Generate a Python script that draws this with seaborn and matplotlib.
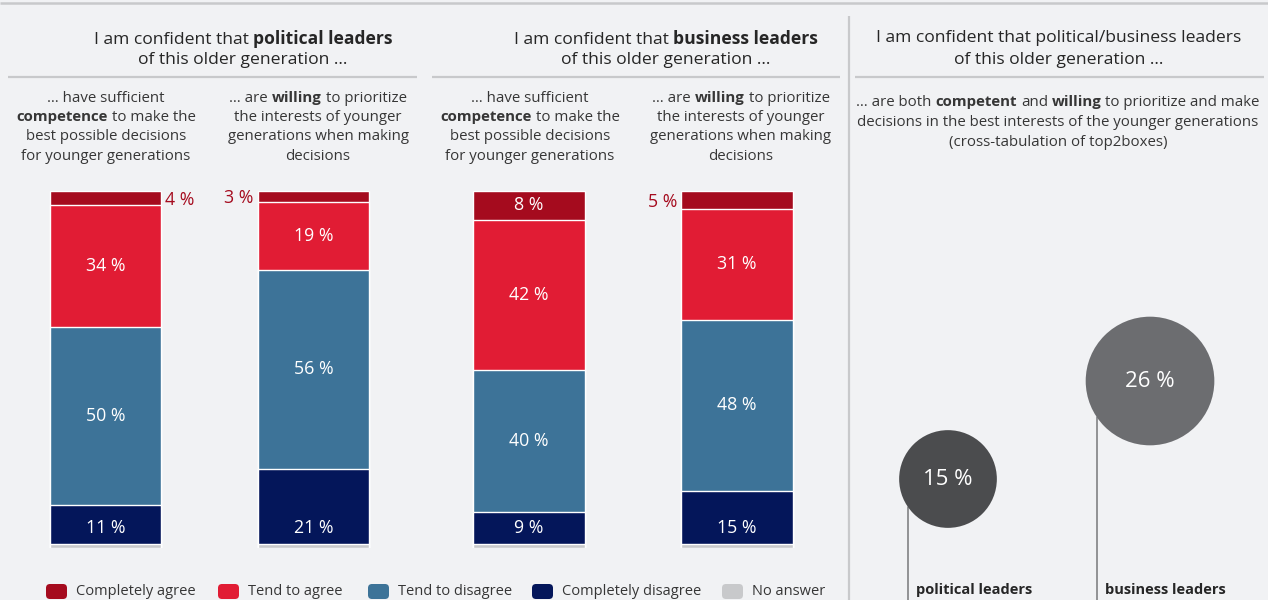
import numpy as np
import pandas as pd
import matplotlib
matplotlib.use("Agg")
import matplotlib.pyplot as plt
import seaborn as sns
from matplotlib.offsetbox import TextArea, HPacker, AnchoredOffsetbox
from matplotlib.patches import FancyBboxPatch

# ---------------------------------------------------------------- data
categories = ["Completely agree", "Tend to agree", "Tend to disagree",
              "Completely disagree", "No answer"]
items = ["competence", "willing"]

political_completely_agree = [4, 3]
political_tend_agree = [34, 19]
political_tend_disagree = [50, 56]
political_completely_disagree = [11, 21]
political_no_answer = [1, 1]

business_completely_agree = [8, 5]
business_tend_agree = [42, 31]
business_tend_disagree = [40, 48]
business_completely_disagree = [9, 15]
business_no_answer = [1, 1]

both_groups = ["political leaders", "business leaders"]
both_values = [15, 26]

# ---------------------------------------------------------------- style
W, H = 1268, 600
BG = "#f1f2f4"
RULE = "#c8c9cb"
HEAD = "#262626"
SUB = "#363636"
FONT = "Open Sans"
colors = {
    "Completely agree": "#a50b1e",
    "Tend to agree": "#e11c34",
    "Tend to disagree": "#3d7398",
    "Completely disagree": "#04165a",
    "No answer": "#c8c9cb",
}
bubble_colors = {"political leaders": "#4b4c4e", "business leaders": "#6c6d70"}

sns.set_theme(style="white", rc={"axes.facecolor": BG, "figure.facecolor": BG})
plt.rcParams["font.family"] = [FONT, "DejaVu Sans"]

fig = plt.figure(figsize=(W / 100, H / 100), dpi=100)
fig.patch.set_facecolor(BG)

# full-figure overlay in pixel units for rules, headings and legend
ov = fig.add_axes([0, 0, 1, 1], zorder=0)
ov.set_xlim(0, W)
ov.set_ylim(H, 0)
ov.axis("off")


def rich_line(parts, xc, yc, size, color, sep):
    """Centre a line built from (text, weight) pieces at pixel (xc, yc)."""
    kids = [TextArea(t, textprops=dict(size=size, weight=w, color=color,
                                       family=[FONT, "DejaVu Sans"]))
            for t, w in parts]
    box = HPacker(children=kids, align="baseline", pad=0, sep=sep)
    anch = AnchoredOffsetbox(loc="center", child=box, pad=0, borderpad=0,
                             frameon=False, bbox_to_anchor=(xc, yc),
                             bbox_transform=ov.transData)
    ov.add_artist(anch)


def block(lines, xc, y0, dy, size, color, sep, base="normal"):
    for k, ln in enumerate(lines):
        if isinstance(ln, str):
            ln = [(ln, base)]
        rich_line(ln, xc, y0 + k * dy, size, color, sep)


# rules
ov.plot([0, W], [3, 3], color=RULE, lw=1.8, solid_capstyle="butt")
ov.plot([848.5, 848.5], [16, H], color=RULE, lw=1.6, solid_capstyle="butt")
for x0, x1 in [(8, 417), (432, 840), (855, 1264)]:
    ov.plot([x0, x1], [77, 77], color=RULE, lw=1.6, solid_capstyle="butt")

# headings
HS, HSEP = 12.6, 3.3
block([[("I am confident that", "medium"), ("political leaders", "bold")],
       "of this older generation …"], 243, 38.5, 21, HS, HEAD, HSEP, "medium")
block([[("I am confident that", "medium"), ("business leaders", "bold")],
       "of this older generation …"], 666, 38.5, 21, HS, HEAD, HSEP, "medium")
block(["I am confident that political/business leaders",
       "of this older generation …"], 1059, 38.5, 21, HS, HEAD, HSEP, "medium")

SS, SSEP = 10.8, 2.8
competence_lines = ["… have sufficient",
                    [("competence", "bold"), ("to make the", "normal")],
                    "best possible decisions",
                    "for younger generations"]
willing_lines = [[("… are", "normal"), ("willing", "bold"), ("to prioritize", "normal")],
                 "the interests of younger",
                 "generations when making",
                 "decisions"]
block(competence_lines, 106, 98.5, 19.2, SS, SUB, SSEP)
block(willing_lines, 318, 98.5, 19.2, SS, SUB, SSEP)
block(competence_lines, 530, 98.5, 19.2, SS, SUB, SSEP)
block(willing_lines, 741, 98.5, 19.2, SS, SUB, SSEP)
block([[("… are both", "normal"), ("competent", "bold"), ("and", "normal"),
        ("willing", "bold"), ("to prioritize and make", "normal")],
       "decisions in the best interests of the younger generations",
       "(cross-tabulation of top2boxes)"], 1058, 102.5, 20, SS, SUB, SSEP)

# ---------------------------------------------------------------- stacked bars
panels = [
    (0.0, [political_completely_agree, political_tend_agree,
           political_tend_disagree, political_completely_disagree,
           political_no_answer]),
    (423.5, [business_completely_agree, business_tend_agree,
             business_tend_disagree, business_completely_disagree,
             business_no_answer]),
]
BAR_W = 0.535
LBL = 12.8
small_side = ["right", "left"]
stack_order = categories[::-1]  # bottom to top

for x0, series in panels:
    ax = fig.add_axes([x0 / W, 1 - 548 / H, 424 / W, (548 - 191) / H], zorder=2)
    ax.patch.set_alpha(0)
    df = pd.DataFrame({"item": items})
    for cat, vals in zip(categories, series):
        df[cat] = vals
    cum = df[stack_order].cumsum(axis=1)
    # tallest cumulative first so each shorter stack sits in front
    for cat in categories:
        sns.barplot(x=df["item"], y=cum[cat], order=items, color=colors[cat],
                    saturation=1, width=BAR_W, edgecolor="white",
                    linewidth=1.0, errorbar=None, ax=ax)
    ax.set_xlim(-0.507, 1.531)
    ax.set_ylim(0, 100)
    ax.axis("off")

    for i in range(len(items)):
        bottom = 0
        for cat in stack_order:
            v = int(df.loc[i, cat])
            if cat == "No answer":
                bottom += v
                continue
            if cat == "Completely disagree":
                yc = bottom + min(v, 9) / 2
            else:
                yc = bottom + v / 2
            if v < 6:
                right = small_side[i] == "right"
                ax.annotate(f"{v} %",
                            xy=(i + BAR_W / 2 if right else i - BAR_W / 2, yc),
                            xytext=(3 if right else -3, -1.5),
                            textcoords="offset points",
                            ha="left" if right else "right", va="center",
                            color=colors["Completely agree"], size=LBL,
                            weight="medium")
            else:
                ax.text(i, yc, f"{v} %", ha="center", va="center",
                        color="white", size=LBL, weight="medium")
            bottom += v

# ---------------------------------------------------------------- bubbles
axb = fig.add_axes([848 / W, 0, 420 / W, 420 / H], zorder=2)
axb.patch.set_alpha(0)
bdf = pd.DataFrame({"group": both_groups, "value": both_values})
K = 330  # marker area (pt^2) per percentage point
vmin, vmax = min(both_values), max(both_values)
sns.scatterplot(data=bdf, x="group", y="value", hue="group",
                palette=bubble_colors, size="value",
                sizes=(K * vmin, K * vmax), size_norm=(vmin, vmax),
                linewidth=0, legend=False, ax=axb)
axb.set_xlim(-0.495, 1.584)
axb.set_ylim(1.42, 48.56)
axb.axis("off")

to_px = ov.transData.inverted()
for i, (g, v) in enumerate(zip(both_groups, both_values)):
    axb.text(i, v, f"{v} %", ha="center", va="center", color="white",
             size=16, weight="medium")
    cx, cy = to_px.transform(axb.transData.transform((i, v)))
    r = np.sqrt(K * v) / 2 * fig.dpi / 72
    dx = 0.825 * r
    lx = cx - dx
    ly = cy + np.sqrt(r ** 2 - dx ** 2)
    ov.plot([lx, lx], [ly, H], color="#77787a", lw=1.1, zorder=1)
    ov.text(lx + 8, 590, g, ha="left", va="center", color=HEAD,
            size=10.5, weight="bold")

# ---------------------------------------------------------------- legend
legend_x = [46, 218, 368, 532, 722]
for cat, lx in zip(categories, legend_x):
    ov.add_patch(FancyBboxPatch((lx, 584), 21, 15,
                                boxstyle="round,pad=0,rounding_size=4",
                                facecolor=colors[cat], edgecolor="none"))
    ov.text(lx + 30, 591.5, cat, ha="left", va="center", color=SUB, size=10.5)

fig.savefig("out.png", dpi=100, facecolor=BG)
